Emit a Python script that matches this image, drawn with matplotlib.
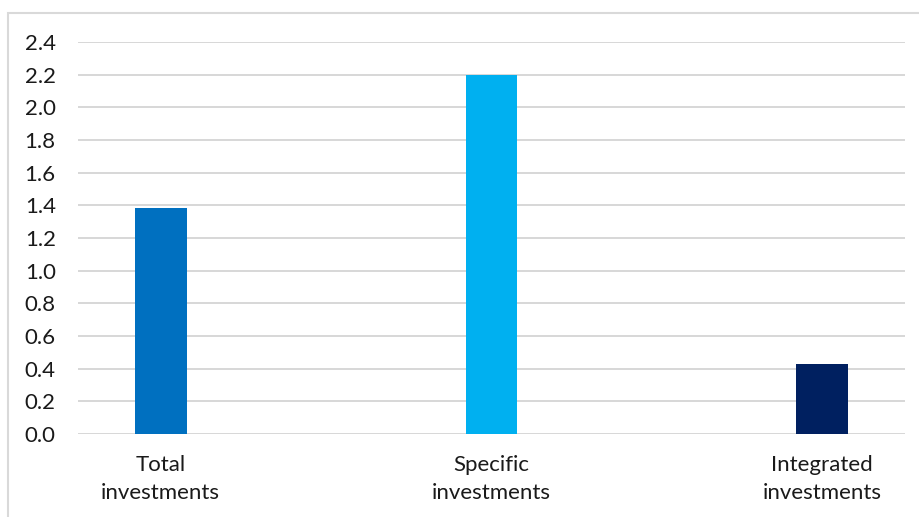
import matplotlib.pyplot as plt
from matplotlib.patches import Rectangle

categories = ["Total\ninvestments", "Specific\ninvestments", "Integrated\ninvestments"]
values = [1.385, 2.20, 0.43]
colors = ["#0070C0", "#00B0F0", "#002060"]
yticks = [0.0, 0.2, 0.4, 0.6, 0.8, 1.0, 1.2, 1.4, 1.6, 1.8, 2.0, 2.2, 2.4]

plt.rcParams['font.family'] = ['Lato', 'DejaVu Sans']

fig = plt.figure(figsize=(9.2, 5.17), dpi=100)
ax = fig.add_axes([78/920, 1-434/517, (905-78)/920, (434-42)/517])

x = range(len(categories))
ax.bar(x, values, width=0.157, color=colors, zorder=3)

ax.set_xlim(-0.25, 2.25)
ax.set_ylim(0, 2.4)
ax.set_yticks(yticks)
ax.set_yticklabels([f"{v:.1f}" for v in yticks], fontsize=16, color="#1a1a1a")
ax.set_xticks(list(x))
ax.set_xticklabels(categories, fontsize=16, color="#1a1a1a", linespacing=1.5)
ax.tick_params(axis='y', length=0, pad=16)
ax.tick_params(axis='x', length=0, pad=15)
ax.grid(axis='y', color="#d4d4d4", linewidth=1.3, zorder=0)
for s in ax.spines.values():
    s.set_visible(False)

# cadre du graphique
fig.patches.append(Rectangle((8/920, -0.1), 1.2, (517-13)/517 + 0.1,
                             transform=fig.transFigure, fill=False,
                             edgecolor="#d9d9d9", linewidth=1.5))

fig.savefig("out.png", dpi=100)
